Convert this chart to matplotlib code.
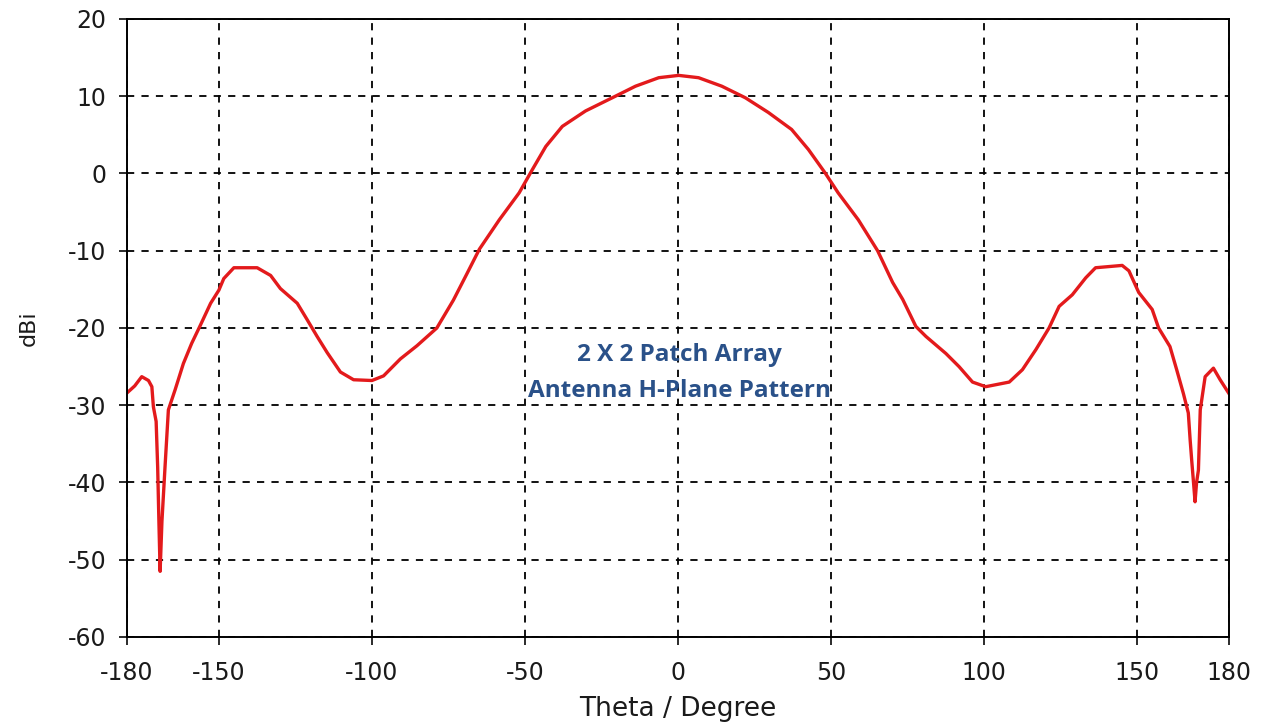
import matplotlib.pyplot as plt

plt.rcParams['axes.unicode_minus'] = False

# H-plane pattern
theta = [-180, -177.5, -175.2, -173.0, -171.9, -171.4, -170.5, -170.0, -169.6, -169.2,
         -168.6, -167.6, -166.5, -164.3, -161.6, -158.9, -156.0, -152.7, -150.0, -148.4,
         -145.1, -137.5, -133.1, -129.9, -124.4, -121.2, -117.9, -114.6, -110.3, -106.0,
         -100.0, -96.2, -90.7, -85.3, -78.8, -73.4, -69.0, -64.9, -58.4, -51.9,
         -47.6, -43.2, -37.8, -30.2, -21.5, -13.9, -6.3, 0.2, 6.7, 14.3,
         22.0, 29.5, 37.1, 42.6, 48.0, 52.3, 58.9, 65.2, 70.1, 73.4,
         77.7, 81.0, 87.5, 91.8, 96.2, 100.5, 108.2, 112.5, 116.9, 121.2,
         124.5, 128.8, 133.2, 136.4, 145.1, 147.3, 150.5, 154.9, 157.0, 160.7,
         162.9, 165.1, 166.7, 167.3, 167.8, 168.4, 168.9, 169.4, 170.0, 170.6,
         172.2, 174.9, 177.1, 180]
gain = [-28.4, -27.5, -26.3, -26.8, -27.6, -30.2, -32.1, -38.0, -45.0, -51.5,
        -45.0, -38.0, -30.6, -28.0, -24.6, -22.0, -19.6, -16.8, -15.1, -13.6,
        -12.2, -12.2, -13.2, -14.9, -16.8, -18.9, -21.1, -23.2, -25.7, -26.7,
        -26.8, -26.2, -24.0, -22.3, -20.0, -16.4, -13.0, -9.8, -6.0, -2.5,
        0.5, 3.5, 6.1, 8.1, 9.8, 11.3, 12.4, 12.7, 12.4, 11.3,
        9.8, 7.9, 5.7, 3.1, 0.1, -2.5, -6.0, -10.0, -14.1, -16.3,
        -19.8, -21.1, -23.3, -25.0, -27.0, -27.6, -27.0, -25.4, -22.8, -20.0,
        -17.2, -15.7, -13.5, -12.2, -11.9, -12.6, -15.4, -17.6, -20.0, -22.4,
        -25.4, -28.5, -31.0, -34.5, -37.1, -40.0, -42.5, -40.0, -38.4, -30.6,
        -26.3, -25.2, -26.7, -28.5]

xticks = [-180, -150, -100, -50, 0, 50, 100, 150, 180]
yticks = [-60, -50, -40, -30, -20, -10, 0, 10, 20]

fig = plt.figure(figsize=(12.63, 7.25), dpi=100)
ax = fig.add_axes([0.1006, 0.1214, 0.8725, 0.8524])

ax.plot(theta, gain, color='#e31a1c', linewidth=2.4)

ax.set_xlim(-180, 180)
ax.set_ylim(-60, 20)
ax.set_xticks(xticks)
ax.set_yticks(yticks)
ax.grid(True, color='black', linestyle=(0, (4, 4)), linewidth=1.3)
ax.tick_params(direction='out', length=6, width=1.3, labelsize=17, colors='#1a1a1a')
ax.tick_params(axis='x', pad=11)
ax.tick_params(axis='y', pad=9)
for s in ax.spines.values():
    s.set_linewidth(1.4)

ax.set_xlabel('Theta / Degree', fontsize=19, color='#1a1a1a', labelpad=8)
ax.set_ylabel('dBi', fontsize=16, color='#1a1a1a', labelpad=21)

ax.text(0.5, -23.5, '2 X 2 Patch Array', ha='center', va='center',
        fontsize=17.5, fontweight='bold', color='#2a5189', family='Open Sans')
ax.text(0.5, -28.2, 'Antenna H-Plane Pattern', ha='center', va='center',
        fontsize=17.5, fontweight='bold', color='#2a5189', family='Open Sans')

fig.savefig('out.png', dpi=100)
